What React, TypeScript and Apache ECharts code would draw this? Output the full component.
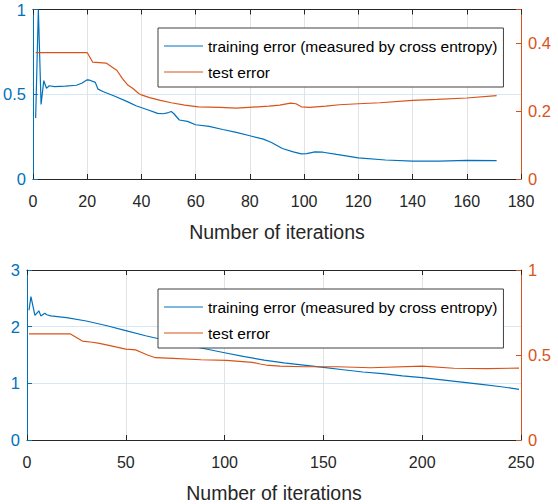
import React, { useEffect, useRef } from "react";
import * as echarts from "echarts";

const BLUE = "#0072BD";
const ORANGE = "#D95319";
const DARK = "#262626";

const trainName = "training error (measured by cross entropy)";
const testName = "test error";

// Top plot
const trainX1 = [1, 2, 3, 4, 5, 6, 8, 12, 16, 18, 20, 21, 23, 24, 26, 30, 35, 38, 42, 46, 48, 50, 51, 52, 54, 57, 60, 65, 70, 75, 80, 85, 88, 92, 96, 99, 101, 104, 107, 112, 120, 130, 140, 150, 160, 171];
const trainY1 = [0.36, 1.0, 0.44, 0.58, 0.535, 0.55, 0.545, 0.548, 0.553, 0.565, 0.585, 0.583, 0.57, 0.53, 0.515, 0.49, 0.455, 0.432, 0.41, 0.387, 0.385, 0.392, 0.398, 0.385, 0.348, 0.34, 0.32, 0.31, 0.292, 0.275, 0.255, 0.235, 0.215, 0.18, 0.16, 0.148, 0.15, 0.16, 0.158, 0.145, 0.125, 0.112, 0.106, 0.106, 0.11, 0.108];
const testX1 = [1, 20, 22, 27, 31, 33, 35, 37, 39, 40, 43, 47, 51, 56, 61, 69, 75, 81, 87, 91, 95, 97, 99, 102, 108, 113, 120, 128, 140, 149, 160, 171];
const testY1 = [0.373, 0.373, 0.345, 0.342, 0.32, 0.296, 0.277, 0.266, 0.252, 0.248, 0.24, 0.232, 0.225, 0.218, 0.213, 0.211, 0.209, 0.212, 0.215, 0.218, 0.224, 0.222, 0.213, 0.211, 0.215, 0.219, 0.222, 0.225, 0.232, 0.235, 0.239, 0.246];

// Bottom plot
const trainX2 = [1, 2, 4, 6, 7, 9, 10, 12, 20, 30, 40, 50, 60, 70, 80, 90, 100, 110, 120, 130, 140, 150, 160, 170, 180, 190, 200, 210, 220, 230, 240, 249];
const trainY2 = [2.29, 2.53, 2.2, 2.28, 2.19, 2.235, 2.21, 2.19, 2.16, 2.1, 2.02, 1.93, 1.84, 1.76, 1.68, 1.61, 1.54, 1.47, 1.41, 1.36, 1.32, 1.28, 1.24, 1.2, 1.17, 1.13, 1.1, 1.06, 1.02, 0.98, 0.94, 0.895];
const testX2 = [1, 22, 28, 33, 36, 42, 50, 55, 58, 61, 65, 74, 88, 101, 114, 118, 121, 128, 140, 157, 174, 200, 216, 233, 249];
const testY2 = [0.624, 0.624, 0.582, 0.575, 0.57, 0.555, 0.535, 0.53, 0.515, 0.5, 0.484, 0.48, 0.472, 0.468, 0.457, 0.447, 0.441, 0.435, 0.431, 0.431, 0.425, 0.435, 0.422, 0.42, 0.423];

const xMax1 = 180, xStep1 = 20;
const xMax2 = 250, xStep2 = 50;

const pairs = (xs: number[], ys: number[]) => xs.map((x, i) => [x, ys[i]]);

const FONT = "'Liberation Sans', Arial, Helvetica, sans-serif";
const LINE_ICON = "path://M0,0H39V1.2H0Z";

function bottomX(gridIndex: number, max: number, interval: number) {
  return {
    type: "value", gridIndex, min: 0, max, interval, position: "bottom",
    name: "Number of iterations", nameLocation: "middle", nameGap: 43,
    nameTextStyle: { color: DARK, fontSize: 19.5, fontFamily: FONT },
    axisLine: { show: true, onZero: false, lineStyle: { color: DARK, width: 1 } },
    axisTick: { show: true, inside: true, length: 5, lineStyle: { color: DARK } },
    axisLabel: { color: DARK, fontSize: 16, fontFamily: FONT, margin: 14 },
    splitLine: { show: true, lineStyle: { color: "#e3e3e3", width: 1 } },
  };
}
function topX(gridIndex: number, max: number, interval: number) {
  return {
    type: "value", gridIndex, min: 0, max, interval, position: "top",
    axisLine: { show: true, onZero: false, lineStyle: { color: DARK, width: 1 } },
    axisTick: { show: true, inside: true, length: 5, lineStyle: { color: DARK } },
    axisLabel: { show: false },
    splitLine: { show: false },
  };
}
function leftY(gridIndex: number, max: number, interval: number) {
  return {
    type: "value", gridIndex, min: 0, max, interval, position: "left",
    axisLine: { show: true, onZero: false, lineStyle: { color: BLUE, width: 1 } },
    axisTick: { show: true, inside: true, length: 5, lineStyle: { color: BLUE } },
    axisLabel: { color: BLUE, fontSize: 16.5, fontFamily: FONT, margin: 7 },
    splitLine: { show: true, lineStyle: { color: "#d6e8f5", width: 1 } },
  };
}
function rightY(gridIndex: number, max: number, interval: number, hideMax: boolean) {
  return {
    type: "value", gridIndex, min: 0, max, interval, position: "right",
    axisLine: { show: true, onZero: false, lineStyle: { color: ORANGE, width: 1 } },
    axisTick: { show: true, inside: true, length: 5, lineStyle: { color: ORANGE } },
    axisLabel: {
      color: ORANGE, fontSize: 16.5, fontFamily: FONT, margin: 7,
      formatter: (v: number) => (hideMax && Math.abs(v - max) < 1e-9 ? "" : String(v)),
    },
    splitLine: { show: false },
  };
}
function legend(top: number) {
  return {
    left: 158, top, orient: "vertical",
    data: [
      { name: trainName, icon: LINE_ICON },
      { name: testName, icon: LINE_ICON },
    ],
    symbolKeepAspect: true,
    backgroundColor: "#ffffff", borderColor: "#404040", borderWidth: 1,
    padding: [10, 6, 7, 6], itemWidth: 39, itemHeight: 14, itemGap: 10,
    textStyle: { color: "#000", fontSize: 15.5, fontFamily: FONT },
    selectedMode: false,
  };
}
function line(name: string, color: string, xi: number, yi: number, data: number[][]) {
  return {
    type: "line", name, xAxisIndex: xi, yAxisIndex: yi, data,
    symbol: "none", showSymbol: false, smooth: false,
    lineStyle: { color, width: 1.2 }, itemStyle: { color },
  };
}

export default function App() {
  const ref = useRef<HTMLDivElement>(null);
  useEffect(() => {
    if (!ref.current) return;
    const chart = echarts.init(ref.current, undefined, { renderer: "svg" });
    chart.setOption({
      animation: false,
      backgroundColor: "#ffffff",
      grid: [
        { left: 27, top: 9.5, width: 494, height: 169.5 },
        { left: 27, top: 270, width: 494, height: 170 },
      ],
      legend: [legend(28), legend(289)],
      xAxis: [
        bottomX(0, xMax1, xStep1),
        topX(0, xMax1, xStep1),
        bottomX(1, xMax2, xStep2),
        topX(1, xMax2, xStep2),
      ],
      yAxis: [
        leftY(0, 1, 0.5),
        rightY(0, 0.5, 0.2, true),
        leftY(1, 3, 1),
        rightY(1, 1, 0.5, false),
      ],
      series: [
        line(trainName, BLUE, 0, 0, pairs(trainX1, trainY1)),
        line(testName, ORANGE, 0, 1, pairs(testX1, testY1)),
        line(trainName, BLUE, 2, 2, pairs(trainX2, trainY2)),
        line(testName, ORANGE, 2, 3, pairs(testX2, testY2)),
      ],
    });
    return () => chart.dispose();
  }, []);
  return (
    <div
      ref={ref}
      style={{ position: "fixed", left: 0, top: 0, width: 558, height: 504, background: "#fff" }}
    />
  );
}
